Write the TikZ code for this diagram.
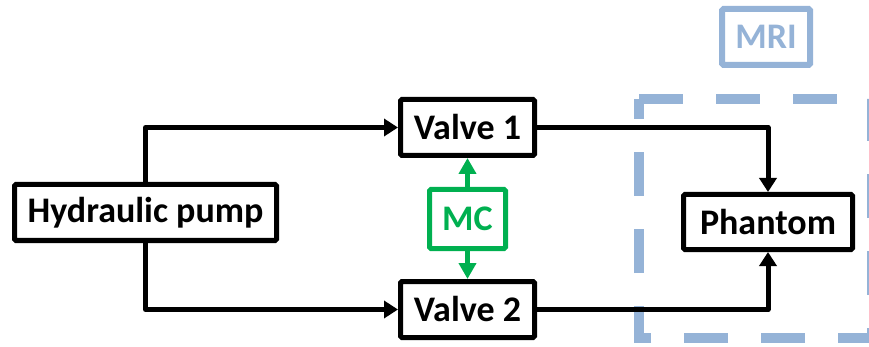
\documentclass[tikz,border=0pt]{standalone}
\usepackage{fontspec}
\setmainfont{Carlito}
\usetikzlibrary{arrows.meta}
\definecolor{mcgreen}{RGB}{0,176,80}
\definecolor{mriblue}{RGB}{149,179,215}
\tikzset{
  blk/.style={draw=black, line width=5pt, rounded corners=1.5pt, fill=white,
    font=\fontsize{36}{42}\selectfont\bfseries, inner sep=0pt},
  flow/.style={draw=black, line width=5pt, line join=round,
    -{Triangle[length=14pt,width=17pt]}},
  ctrl/.style={draw=mcgreen, line width=5pt,
    -{Triangle[length=16pt,width=17pt]}},
}
\begin{document}
\begin{tikzpicture}[x=1pt,y=-1pt]
  \useasboundingbox (0,0) rectangle (869,347);
  % MRI scanner boundary
  \draw[mriblue, line width=10pt, dash pattern=on 44pt off 33pt]
    (639,99) -- (872,99) -- (872,338) -- (639,338) -- cycle;
  \node[blk, draw=mriblue, line width=6pt, text=mriblue,
        minimum width=88pt, minimum height=56pt] (mri) at (766,37) {MRI};
  % components
  \node[blk, minimum width=262pt, minimum height=56pt] (pump) at (145.5,212.5) {Hydraulic pump};
  \node[blk, minimum width=134pt, minimum height=56pt] (v1) at (467.5,127.5) {Valve 1};
  \node[blk, minimum width=134pt, minimum height=56pt] (v2) at (467.5,309.5) {Valve 2};
  \node[blk, draw=mcgreen, text=mcgreen, minimum width=76pt, minimum height=59pt] (mc) at (467.5,219) {MC};
  \node[blk, minimum width=169pt, minimum height=55pt] (ph) at (768,222) {Phantom};
  % hydraulic lines
  \draw[flow] (pump.north) |- (v1.west);
  \draw[flow] (pump.south) |- (v2.west);
  \draw[flow] (v1.east) -| (ph.north);
  \draw[flow] (v2.east) -| (ph.south);
  % motion controller
  \draw[ctrl] (mc.north) -- (v1.south);
  \draw[ctrl] (mc.south) -- (v2.north);
\end{tikzpicture}
\end{document}
